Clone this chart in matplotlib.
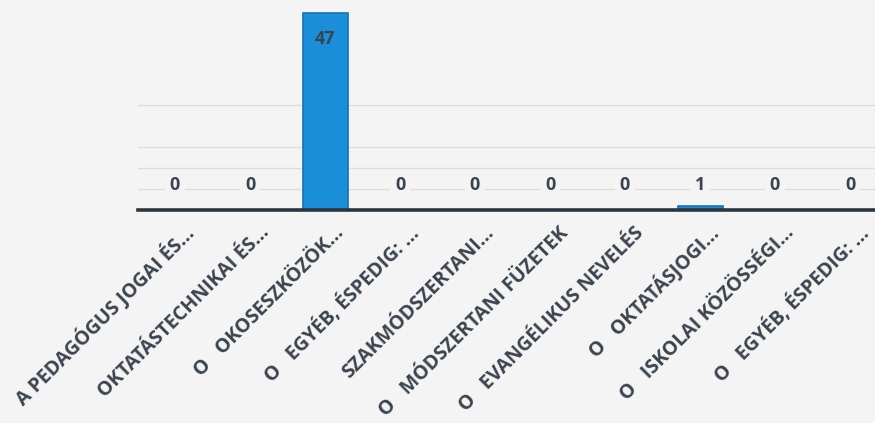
import matplotlib
matplotlib.use("Agg")
import matplotlib.pyplot as plt
import matplotlib.transforms as mtransforms

categories = [
    "A PEDAGÓGUS JOGAI ÉS...",
    "OKTATÁSTECHNIKAI ÉS...",
    "O   OKOSESZKÖZÖK...",
    "O   EGYÉB, ÉSPEDIG: ...",
    "SZAKMÓDSZERTANI...",
    "O   MÓDSZERTANI FÜZETEK",
    "O   EVANGÉLIKUS NEVELÉS",
    "O   OKTATÁSJOGI...",
    "O   ISKOLAI KÖZÖSSÉGI...",
    "O   EGYÉB, ÉSPEDIG: ...",
]
values = [0, 0, 47, 0, 0, 0, 0, 1, 0, 0]
grid_levels = [5, 10, 15, 25]

plt.rcParams['font.family'] = ['Open Sans', 'DejaVu Sans']

W, H, DPI = 875, 423, 100
fig = plt.figure(figsize=(W / DPI, H / DPI), dpi=DPI)
fig.patch.set_facecolor('#f4f4f4')

left_px, right_px = 137.5, 887.5
base_px, top_px = 210, 0
ax = fig.add_axes([left_px / W, (H - base_px) / H,
                   (right_px - left_px) / W, (base_px - top_px) / H])
ax.set_facecolor('none')
ax.set_xlim(-0.5, len(values) - 0.5)
ax.set_ylim(0, 50)

text_col = '#3a444e'
for g in grid_levels:
    ax.axhline(g, color='#dcdcdc', lw=0.9, zorder=0)

x = list(range(len(values)))
ax.bar(x, values, width=0.6, color='#1a8ed8', edgecolor='#1672b4', linewidth=1.2, zorder=2)

for xi, v in zip(x, values):
    if v > 10:
        ax.annotate(str(v), (xi, v), xytext=(0, -19), textcoords='offset points',
                    ha='center', va='center', fontsize=13, fontweight='bold',
                    color=text_col, zorder=4)
    else:
        ax.annotate(str(v), (xi, 0), xytext=(0, 18), textcoords='offset points',
                    ha='center', va='center', fontsize=13, fontweight='bold',
                    color=text_col, zorder=4,
                    bbox=dict(boxstyle='square,pad=0.25', fc='#f4f4f4', ec='none'))

for s in ['top', 'right', 'left']:
    ax.spines[s].set_visible(False)
ax.spines['bottom'].set_color('#2b3540')
ax.spines['bottom'].set_linewidth(2.6)
ax.set_yticks([])
ax.set_xticks(x)
ax.tick_params(axis='x', length=0, pad=0)
ax.set_xticklabels(categories, rotation=45, ha='right', va='center',
                   rotation_mode='anchor', fontsize=14, fontweight='bold',
                   color=text_col)
offset = mtransforms.ScaledTranslation(16 / DPI, -20 / DPI, fig.dpi_scale_trans)
for lab in ax.get_xticklabels():
    lab.set_transform(lab.get_transform() + offset)

fig.savefig('out.png', dpi=DPI, facecolor=fig.get_facecolor())
